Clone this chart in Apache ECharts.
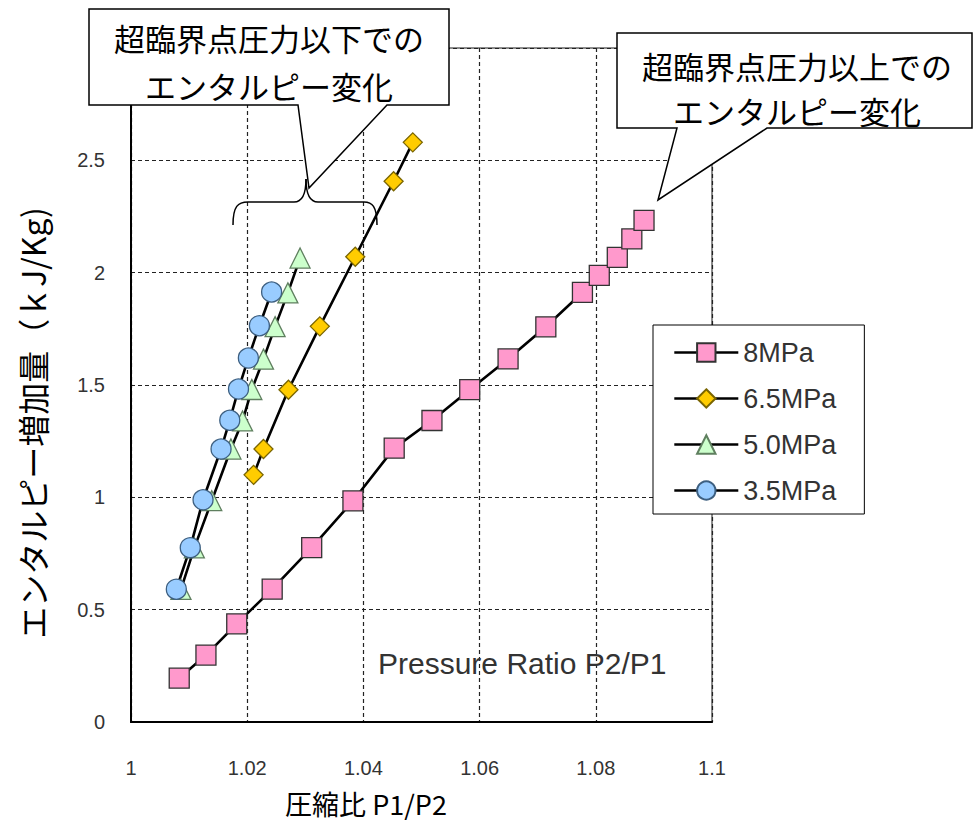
<!DOCTYPE html>
<html>
<head>
<meta charset="utf-8">
<script src="https://cdn.jsdelivr.net/npm/echarts@6/dist/echarts.min.js"></script>
<style>
  html, body { margin: 0; padding: 0; background: #fff; }
  #chart { width: 974px; height: 821px; }
</style>
</head>
<body>
<div id="chart"></div>
<script>
// Pressure ratio (x) and enthalpy increase (y) for each inlet pressure
const seriesNames = ['8MPa', '6.5MPa', '5.0MPa', '3.5MPa'];

const ratio8 = [1.0083, 1.0129, 1.0182, 1.0243, 1.0311, 1.0382, 1.0453, 1.0518, 1.0583, 1.0649, 1.0714, 1.0777, 1.0806, 1.0837, 1.0862, 1.0883];
const enth8  = [0.195, 0.298, 0.437, 0.591, 0.776, 0.984, 1.219, 1.342, 1.479, 1.616, 1.759, 1.912, 1.988, 2.068, 2.150, 2.233];

const ratio65 = [1.0211, 1.0228, 1.0271, 1.0325, 1.0386, 1.0452, 1.0485];
const enth65  = [1.100, 1.215, 1.479, 1.761, 2.071, 2.407, 2.580];

const ratio50 = [1.0086, 1.0109, 1.0139, 1.0172, 1.0192, 1.0208, 1.0228, 1.0248, 1.0270, 1.0291];
const enth50  = [0.590, 0.775, 0.985, 1.215, 1.340, 1.480, 1.615, 1.760, 1.910, 2.065];

const ratio35 = [1.0078, 1.0102, 1.0124, 1.0155, 1.0170, 1.0185, 1.0202, 1.0221, 1.0242];
const enth35  = [0.591, 0.776, 0.989, 1.215, 1.343, 1.482, 1.620, 1.764, 1.914];

// Axis ranges and ticks
const xTicks = [1, 1.02, 1.04, 1.06, 1.08, 1.1];
const yTicks = [0, 0.5, 1, 1.5, 2, 2.5, 3];

// Text
const xName = '圧縮比 P1/P2';
const yName = 'エンタルピー増加量（ｋJ/Kg)';
const innerNote = 'Pressure Ratio P2/P1';
const calloutBelow = ['超臨界点圧力以下での', 'エンタルピー変化'];
const calloutAbove = ['超臨界点圧力以上での', 'エンタルピー変化'];

function pairs(xs, ys) { return xs.map((x, i) => [x, ys[i]]); }

const cjk = '"Noto Sans CJK JP", "Noto Sans", sans-serif';
const latin = '"Liberation Sans", Arial, sans-serif';

const chart = echarts.init(document.getElementById('chart'), null, { renderer: 'svg' });

function makeSeries(name, data, symbol, size, fill, border) {
  return {
    name: name,
    type: 'line',
    data: data,
    symbol: symbol,
    symbolSize: size,
    showSymbol: true,
    showAllSymbol: true,
    lineStyle: { color: '#000', width: 2.6 },
    itemStyle: { color: fill, borderColor: border, borderWidth: 1.3 },
    emphasis: { disabled: true },
    z: 3
  };
}

const calloutText = (lines, cx, ys) => lines.map((t, i) => ({
  type: 'text',
  x: cx, y: ys[i],
  z: 110,
  style: {
    text: t, font: '31px ' + cjk, fill: '#000',
    align: 'center', verticalAlign: 'middle',
    textAlign: 'center', textVerticalAlign: 'middle'
  }
}));

const option = {
  animation: false,
  backgroundColor: '#fff',
  grid: {
    left: 131, top: 48, right: 262, bottom: 99,
    show: true, borderColor: '#8c8c8c', borderWidth: 2, backgroundColor: 'transparent'
  },
  xAxis: {
    type: 'value',
    min: xTicks[0], max: xTicks[xTicks.length - 1], interval: 0.02,
    axisLine: { show: true, onZero: false, lineStyle: { color: '#000', width: 2 } },
    axisTick: { show: false },
    axisLabel: { margin: 36, fontSize: 20, fontFamily: latin, color: '#333' },
    splitLine: { show: true, lineStyle: { color: '#222', width: 1.2, type: [4, 3] } }
  },
  yAxis: {
    type: 'value',
    min: yTicks[0], max: yTicks[yTicks.length - 1], interval: 0.5,
    axisLine: { show: true, onZero: false, lineStyle: { color: '#000', width: 2 } },
    axisTick: { show: false },
    axisLabel: { margin: 26, fontSize: 20, fontFamily: latin, color: '#333' },
    splitLine: { show: true, lineStyle: { color: '#222', width: 1.2, type: [4, 3] } }
  },
  legend: {
    orient: 'vertical',
    left: 653, top: 325,
    data: seriesNames,
    itemWidth: 64, itemHeight: 23, itemGap: 19,
    padding: [14, 28, 10, 20],
    backgroundColor: '#fff',
    borderColor: '#000', borderWidth: 1,
    textStyle: { fontSize: 27, fontFamily: latin, color: '#333' },
    lineStyle: { color: '#000', width: 2.6 },
    selectedMode: false,
    z: 20
  },
  series: [
    makeSeries(seriesNames[0], pairs(ratio8, enth8), 'rect', 20, '#FF99CC', '#333'),
    makeSeries(seriesNames[1], pairs(ratio65, enth65), 'diamond', 19, '#FFCC00', '#7a6500'),
    makeSeries(seriesNames[2], pairs(ratio50, enth50), 'triangle', 20, '#CCFFCC', '#5f7f5f'),
    makeSeries(seriesNames[3], pairs(ratio35, enth35), 'circle', 20, '#99CCFF', '#3d5f80')
  ],
  graphic: [
    // axis titles
    {
      type: 'text', x: 366, y: 803, z: 50,
      style: { text: xName, font: '27px ' + cjk, fill: '#000', align: 'center', verticalAlign: 'middle', textAlign: 'center', textVerticalAlign: 'middle' }
    },
    {
      type: 'text', x: 32, y: 423, rotation: Math.PI / 2, z: 50,
      style: { text: yName, font: '32px ' + cjk, fill: '#000', align: 'center', verticalAlign: 'middle', textAlign: 'center', textVerticalAlign: 'middle' }
    },
    // note inside the plot
    {
      type: 'text', x: 378, y: 663, z: 50,
      style: { text: innerNote, font: '30px ' + latin, fill: '#333', align: 'left', verticalAlign: 'middle', textAlign: 'left', textVerticalAlign: 'middle' }
    },
    // callout: below the critical pressure
    {
      type: 'polygon', z: 100,
      shape: { points: [[89, 9], [449, 9], [449, 105], [387, 105], [309, 188], [298, 105], [89, 105]] },
      style: { fill: '#fff', stroke: '#000', lineWidth: 1.5 }
    },
    ...calloutText(calloutBelow, 269, [37, 85]),
    // brace grouping the sub-critical curves
    { type: 'bezierCurve', z: 105, shape: { x1: 233, y1: 225, cpx1: 233, cpy1: 206, cpx2: 238, cpy2: 202, x2: 248, y2: 202 }, style: { stroke: '#000', lineWidth: 1.5, fill: null } },
    { type: 'line', z: 105, shape: { x1: 248, y1: 202, x2: 294, y2: 202 }, style: { stroke: '#000', lineWidth: 1.5 } },
    { type: 'bezierCurve', z: 105, shape: { x1: 294, y1: 202, cpx1: 302, cpy1: 202, cpx2: 306, cpy2: 195, x2: 306, y2: 179 }, style: { stroke: '#000', lineWidth: 1.5, fill: null } },
    { type: 'bezierCurve', z: 105, shape: { x1: 306, y1: 179, cpx1: 306, cpy1: 195, cpx2: 310, cpy2: 202, x2: 318, y2: 202 }, style: { stroke: '#000', lineWidth: 1.5, fill: null } },
    { type: 'line', z: 105, shape: { x1: 318, y1: 202, x2: 364, y2: 202 }, style: { stroke: '#000', lineWidth: 1.5 } },
    { type: 'bezierCurve', z: 105, shape: { x1: 364, y1: 202, cpx1: 372, cpy1: 202, cpx2: 377, cpy2: 206, x2: 377, y2: 225 }, style: { stroke: '#000', lineWidth: 1.5, fill: null } },
    // callout: above the critical pressure
    {
      type: 'polygon', z: 100,
      shape: { points: [[617, 33], [972, 33], [972, 128], [767, 128], [658, 200], [677, 128], [617, 128]] },
      style: { fill: '#fff', stroke: '#000', lineWidth: 1.5 }
    },
    ...calloutText(calloutAbove, 797, [65, 110])
  ]
};

chart.setOption(option);
</script>
</body>
</html>
